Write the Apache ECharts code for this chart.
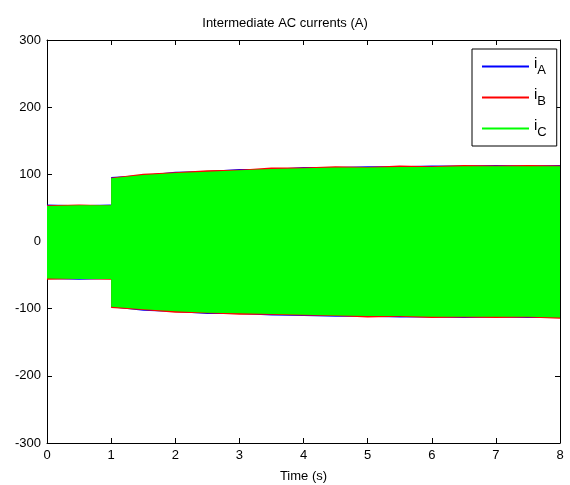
<!DOCTYPE html>
<html>
<head>
<meta charset="utf-8">
<script src="https://cdn.jsdelivr.net/npm/echarts@6/dist/echarts.min.js"></script>
<style>
  html, body { margin: 0; padding: 0; background: #fff; }
  #chart { width: 570px; height: 485px; }
</style>
</head>
<body>
<div id="chart"></div>
<script>
  // time samples (s); 1 s appears twice for the step in load
  const timeS = [0, 0.5, 1, 1, 1.5, 2, 2.5, 3, 3.5, 4, 4.5, 5, 5.5, 6, 6.5, 7, 7.5, 8]

  // envelope (peak) of each phase current
  const iATop = [55, 54, 55, 96, 99, 104, 105, 108, 108, 111, 111, 112, 112, 113, 113, 114, 113, 114]
  const iABottom = [-56, -57, -56, -98, -103, -105, -108, -108, -110, -111, -112, -112, -113, -113, -114, -113, -114, -114]
  const iBTop = [54, 55, 54, 95, 101, 103, 106, 107, 110, 110, 112, 111, 113, 112, 114, 113, 114, 113]
  const iBBottom = [-57, -56, -57, -99, -102, -106, -107, -109, -109, -110, -111, -113, -112, -114, -113, -114, -113, -115]
  const iCTop = [53, 54, 54, 94, 99, 102, 104, 106, 108, 109, 110, 110, 111, 111, 112, 112, 112, 112]
  const iCBottom = [-55, -56, -56, -97, -101, -104, -106, -107, -108, -109, -110, -111, -111, -112, -112, -112, -112, -113]

  const phases = [
    { name: 'iA', sub: 'A', color: '#0000ff', top: iATop, bottom: iABottom },
    { name: 'iB', sub: 'B', color: '#ff0000', top: iBTop, bottom: iBBottom },
    { name: 'iC', sub: 'C', color: '#00ff00', top: iCTop, bottom: iCBottom }
  ]

  const font = 'Liberation Sans, Arial, sans-serif'

  // the two halves overlap a little so no seam shows at zero
  function band(p, values, origin) {
    return {
      name: p.name,
      type: 'line',
      data: timeS.map((t, i) => [t, values[i]]),
      color: p.color,
      showSymbol: false,
      symbol: 'none',
      lineStyle: { width: 0 },
      areaStyle: { color: p.color, opacity: 1, origin: origin },
      silent: true
    }
  }

  const series = []
  phases.forEach((p) => {
    series.push(band(p, p.top, -20))
    series.push(band(p, p.bottom, 20))
  })

  const axisCommon = {
    axisLine: { show: true, onZero: false, lineStyle: { color: '#000', width: 1 } },
    axisTick: { show: true, inside: true, length: 5, lineStyle: { color: '#000' } },
    splitLine: { show: false }
  }

  const chart = echarts.init(document.getElementById('chart'))
  chart.setOption({
    animation: false,
    backgroundColor: '#fff',
    textStyle: { fontFamily: font },
    title: {
      text: 'Intermediate AC currents (A)',
      left: 'center',
      top: 12,
      textStyle: { fontFamily: font, fontSize: 13, fontWeight: 'normal', color: '#000' }
    },
    grid: { left: 47, right: 10, top: 40, bottom: 42, outerBoundsMode: 'none' },
    legend: {
      orient: 'vertical',
      left: 472,
      top: 49,
      width: 83,
      padding: [7, 10, 7, 10],
      itemGap: 10,
      itemWidth: 47,
      itemHeight: 2,
      icon: 'rect',
      backgroundColor: '#fff',
      borderColor: '#000',
      borderWidth: 1,
      borderRadius: 0,
      data: phases.map((p) => ({ name: p.name, itemStyle: { color: p.color } })),
      selectedMode: false,
      formatter: (name) => {
        const p = phases.find((q) => q.name === name)
        return '{i|i}{s|' + p.sub + '}'
      },
      textStyle: {
        fontFamily: font,
        color: '#000',
        rich: {
          i: { fontSize: 15, fontFamily: font, lineHeight: 20, padding: [0, 0, 6, 0] },
          s: { fontSize: 13, fontFamily: font, lineHeight: 20, padding: [7, 0, 0, 0] }
        }
      }
    },
    xAxis: [
      Object.assign({}, axisCommon, {
        type: 'value',
        min: 0,
        max: 8,
        interval: 1,
        position: 'bottom',
        name: 'Time (s)',
        nameLocation: 'middle',
        nameGap: 27,
        nameTextStyle: { fontFamily: font, fontSize: 13, color: '#000' },
        axisLabel: { fontFamily: font, fontSize: 13, color: '#000', margin: 6 }
      }),
      Object.assign({}, axisCommon, {
        type: 'value',
        min: 0,
        max: 8,
        interval: 1,
        position: 'top',
        axisLabel: { show: false }
      })
    ],
    yAxis: [
      Object.assign({}, axisCommon, {
        type: 'value',
        min: -300,
        max: 300,
        interval: 100,
        position: 'left',
        axisLabel: { fontFamily: font, fontSize: 13, color: '#000', margin: 6 }
      }),
      Object.assign({}, axisCommon, {
        type: 'value',
        min: -300,
        max: 300,
        interval: 100,
        position: 'right',
        axisLabel: { show: false }
      })
    ],
    series: series
  })
</script>
</body>
</html>
